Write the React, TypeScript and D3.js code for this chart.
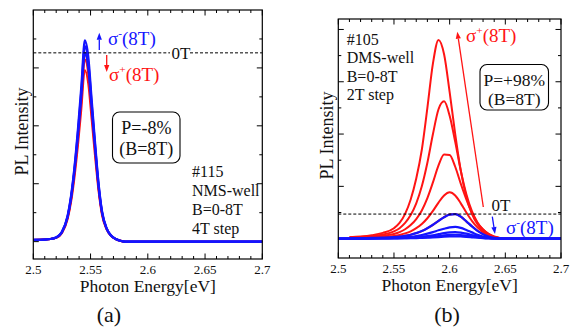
import React from "react";
import * as d3 from "d3";

// ---------- data ----------
const energyTickValues = [2.5, 2.55, 2.6, 2.65, 2.7];
const energyTickLabels = ["2.5", "2.55", "2.6", "2.65", "2.7"];

// Panel (a): #115 NMS-well, B = 0, 4, 8 T
const aEnergy = [2.50, 2.51, 2.515, 2.52, 2.525, 2.53, 2.533, 2.536, 2.539, 2.542, 2.545, 2.548, 2.551, 2.554, 2.557, 2.560, 2.564, 2.568, 2.572, 2.576, 2.58, 2.60, 2.70];
const aPlus0T = [0.06, 0.07, 0.09, 0.14, 0.32, 0.85, 1.5, 2.45, 3.65, 5.05, 6.52, 6.0, 4.6, 3.2, 1.9, 1.0, 0.45, 0.2, 0.09, 0.03, 0, 0, 0];
const aPlus4T = [0.06, 0.07, 0.09, 0.13, 0.31, 0.82, 1.45, 2.37, 3.53, 4.88, 6.3, 5.8, 4.45, 3.1, 1.84, 0.97, 0.44, 0.2, 0.09, 0.03, 0, 0, 0];
const aPlus8T = [0.06, 0.07, 0.09, 0.13, 0.29, 0.78, 1.37, 2.23, 3.32, 4.6, 5.93, 5.45, 4.2, 2.92, 1.74, 0.92, 0.42, 0.19, 0.09, 0.03, 0, 0, 0];
const aMinus0T = [0.06, 0.07, 0.09, 0.14, 0.32, 0.85, 1.5, 2.45, 3.65, 5.05, 6.52, 6.0, 4.6, 3.2, 1.9, 1.0, 0.45, 0.2, 0.09, 0.03, 0, 0, 0];
const aMinus4T = [0.06, 0.07, 0.09, 0.14, 0.33, 0.88, 1.55, 2.53, 3.78, 5.23, 6.75, 6.2, 4.75, 3.3, 1.96, 1.03, 0.46, 0.2, 0.09, 0.03, 0, 0, 0];
const aMinus8T = [0.06, 0.07, 0.09, 0.15, 0.34, 0.9, 1.6, 2.6, 3.9, 5.4, 6.95, 6.4, 4.9, 3.4, 2.02, 1.06, 0.47, 0.21, 0.09, 0.03, 0, 0, 0];

// Panel (b): #105 DMS-well, B = 0, 2, 4, 6, 8 T
const bEnergy = [2.50, 2.51, 2.52, 2.53, 2.54, 2.55, 2.555, 2.56, 2.565, 2.57, 2.575, 2.58, 2.585, 2.59, 2.595, 2.60, 2.605, 2.61, 2.615, 2.62, 2.625, 2.63, 2.635, 2.64, 2.645, 2.65, 2.66, 2.70];
const bPlus8T = [null, 0.05, 0.08, 0.13, 0.22, 0.4, 0.6, 0.95, 1.5, 2.3, 3.4, 5.0, 6.7, 7.6, 7.05, 5.6, 4.0, 2.6, 1.6, 0.95, 0.55, 0.3, 0.15, 0.06, 0.02, 0, 0, 0];
const bPlus6T = [null, 0.04, 0.06, 0.1, 0.16, 0.28, 0.4, 0.6, 0.9, 1.35, 2.0, 2.9, 4.0, 4.95, 5.25, 4.7, 3.7, 2.6, 1.7, 1.05, 0.62, 0.35, 0.17, 0.07, 0.02, 0, 0, 0];
const bPlus4T = [null, 0.03, 0.05, 0.07, 0.11, 0.18, 0.25, 0.36, 0.52, 0.75, 1.08, 1.55, 2.15, 2.8, 3.22, 3.2, 2.75, 2.1, 1.5, 0.98, 0.6, 0.35, 0.18, 0.08, 0.03, 0, 0, 0];
const bPlus2T = [null, 0.02, 0.03, 0.04, 0.06, 0.1, 0.14, 0.2, 0.28, 0.4, 0.56, 0.78, 1.06, 1.38, 1.65, 1.77, 1.65, 1.35, 1.0, 0.68, 0.43, 0.25, 0.13, 0.06, 0.02, 0, 0, 0];
const bPlus0T = [null, 0.01, 0.02, 0.03, 0.04, 0.06, 0.08, 0.11, 0.15, 0.21, 0.29, 0.4, 0.53, 0.68, 0.82, 0.92, 0.94, 0.84, 0.66, 0.47, 0.3, 0.17, 0.08, 0.03, 0.01, 0, 0, 0];
const bMinus0T = [0, 0.01, 0.02, 0.03, 0.04, 0.06, 0.08, 0.11, 0.15, 0.21, 0.29, 0.4, 0.53, 0.68, 0.82, 0.92, 0.94, 0.84, 0.66, 0.47, 0.3, 0.17, 0.08, 0.03, 0.01, 0, 0, 0];
const bMinus2T = [0, 0.005, 0.01, 0.015, 0.02, 0.03, 0.04, 0.05, 0.07, 0.1, 0.14, 0.19, 0.25, 0.32, 0.38, 0.43, 0.45, 0.41, 0.33, 0.24, 0.15, 0.08, 0.04, 0.015, 0.005, 0, 0, 0];
const bMinus4T = [0, 0, 0.005, 0.01, 0.015, 0.02, 0.025, 0.03, 0.04, 0.055, 0.075, 0.1, 0.13, 0.17, 0.21, 0.24, 0.25, 0.23, 0.19, 0.14, 0.09, 0.05, 0.025, 0.01, 0.005, 0, 0, 0];
const bMinus6T = [0, 0, 0, 0.005, 0.01, 0.015, 0.018, 0.022, 0.028, 0.035, 0.047, 0.062, 0.08, 0.1, 0.125, 0.143, 0.15, 0.14, 0.115, 0.085, 0.055, 0.03, 0.015, 0.006, 0.002, 0, 0, 0];
const bMinus8T = [0, 0, 0, 0.004, 0.008, 0.01, 0.012, 0.015, 0.018, 0.022, 0.03, 0.038, 0.048, 0.06, 0.075, 0.086, 0.09, 0.084, 0.07, 0.052, 0.034, 0.019, 0.009, 0.004, 0.001, 0, 0, 0];

const aLegendLines = ["#115", "NMS-well", "B=0-8T", "4T step"];
const bLegendLines = ["#105", "DMS-well", "B=0-8T", "2T step"];
const aBoxLines = ["P=-8%", "(B=8T)"];
const bBoxLines = ["P=+98%", "(B=8T)"];

// ---------- styling ----------
const RED = "#ff1414";
const BLUE = "#1414ff";
const FONT = "Liberation Serif, Tinos, Times New Roman, Times, DejaVu Serif, serif";

type Curve = { x: number[]; y: (number | null)[] };

function Arrow({ x1, y1, x2, y2, color }: { x1: number; y1: number; x2: number; y2: number; color: string }) {
  const dx = x2 - x1, dy = y2 - y1;
  const L = Math.hypot(dx, dy);
  const ux = dx / L, uy = dy / L;
  const hl = 7, hw = 2.6;
  const bx = x2 - ux * hl, by = y2 - uy * hl;
  const pts = [
    [x2, y2],
    [bx - uy * hw, by + ux * hw],
    [bx + uy * hw, by - ux * hw],
  ].map((p) => p.join(",")).join(" ");
  return (
    <g>
      <line x1={x1} y1={y1} x2={bx} y2={by} stroke={color} strokeWidth={1.3} />
      <polygon points={pts} fill={color} />
    </g>
  );
}

function Sigma({ x, y, sign, color, size }: { x: number; y: number; sign: string; color: string; size: number }) {
  return (
    <text x={x} y={y} fill={color} style={{ fontFamily: FONT }} fontSize={size}>
      <tspan>σ</tspan>
      <tspan dy={-size * 0.42} fontSize={size * 0.6}>{sign}</tspan>
      <tspan dy={size * 0.42}>(8T)</tspan>
    </text>
  );
}

function Frame({
  left, right, top, bottom, yDomain, yTickMax, red, blue, render,
}: {
  left: number; right: number; top: number; bottom: number;
  yDomain: [number, number]; yTickMax: number;
  red: Curve[]; blue: Curve[];
  render?: (x: d3.ScaleLinear<number, number>, y: d3.ScaleLinear<number, number>) => React.ReactNode;
}) {
  const x = d3.scaleLinear().domain([2.5, 2.7]).range([left, right]);
  const y = d3.scaleLinear().domain(yDomain).range([bottom, top]);
  const line = (c: Curve) =>
    d3.line<number>()
      .defined((_, i) => c.y[i] !== null)
      .x((_, i) => x(c.x[i]))
      .y((_, i) => y(c.y[i] as number))
      .curve(d3.curveMonotoneX)(c.x) || "";
  const minorX = d3.range(0, 21).map((i) => 2.5 + i * 0.01);
  const yTicks = d3.range(0, yTickMax + 1);
  const cid = `clip${Math.round(left)}`;
  return (
    <g>
      <defs>
        <clipPath id={cid}>
          <rect x={left} y={top} width={right - left} height={bottom - top} />
        </clipPath>
      </defs>
      {minorX.map((v, i) => {
        const major = i % 5 === 0;
        const L = major ? 5.5 : 3;
        const px = x(v);
        return (
          <g key={"xt" + i}>
            <line x1={px} x2={px} y1={bottom} y2={bottom - L} stroke="#000" strokeWidth={1} />
            <line x1={px} x2={px} y1={top} y2={top + L} stroke="#000" strokeWidth={1} />
          </g>
        );
      })}
      {yTicks.map((v) => {
        const major = v % 2 === 0;
        const L = major ? 5.5 : 3;
        const py = y(v);
        return (
          <g key={"yt" + v}>
            <line x1={left} x2={left + L} y1={py} y2={py} stroke="#000" strokeWidth={1} />
            <line x1={right} x2={right - L} y1={py} y2={py} stroke="#000" strokeWidth={1} />
          </g>
        );
      })}
      {energyTickValues.map((v, i) => (
        <text key={"xl" + i} x={x(v)} y={bottom + 14.5} textAnchor="middle" style={{ fontFamily: FONT }} fontSize={13} fill="#111">
          {energyTickLabels[i]}
        </text>
      ))}
      <g clipPath={`url(#${cid})`}>
        {red.map((c, i) => (
          <path key={"r" + i} d={line(c)} fill="none" stroke={RED} strokeWidth={2} strokeLinejoin="round" />
        ))}
        {blue.map((c, i) => (
          <path key={"b" + i} d={line(c)} fill="none" stroke={BLUE} strokeWidth={2.2} strokeLinejoin="round" />
        ))}
      </g>
      {render && render(x, y)}
      <rect x={left} y={top} width={right - left} height={bottom - top} fill="none" stroke="#000" strokeWidth={1.2} />
      <text
        transform={`translate(${left - 5.5},${(top + bottom) / 2 - 3}) rotate(-90)`}
        textAnchor="middle" style={{ fontFamily: FONT }} fontSize={18} fill="#111"
      >
        PL Intensity
      </text>
      <text x={(left + right) / 2} y={bottom + 32.5} textAnchor="middle" style={{ fontFamily: FONT }} fontSize={17.5} fill="#111">
        Photon Energy[eV]
      </text>
    </g>
  );
}

export default function App() {
  const aRed: Curve[] = [aPlus0T, aPlus4T, aPlus8T].map((y) => ({ x: aEnergy, y }));
  const aBlue: Curve[] = [aMinus0T, aMinus4T, aMinus8T].map((y) => ({ x: aEnergy, y }));
  const bRed: Curve[] = [bPlus0T, bPlus2T, bPlus4T, bPlus6T, bPlus8T].map((y) => ({ x: bEnergy, y }));
  const bBlue: Curve[] = [bMinus0T, bMinus2T, bMinus4T, bMinus6T, bMinus8T].map((y) => ({ x: bEnergy, y }));
  const aZero = d3.max(aPlus0T) as number;
  const bZero = d3.max(bMinus0T) as number;
  const T = { fontFamily: FONT };

  return (
    <svg width={574} height={333} style={{ position: "absolute", left: 0, top: 0, background: "#fff", fontFamily: FONT }}>
      <rect width={574} height={333} fill="#fff" />
      {/* Panel (a) */}
      <Frame
        left={33.3} right={262.3} top={10} bottom={259}
        yDomain={[-0.6, 8]} yTickMax={7}
        red={aRed} blue={aBlue}
        render={(x, y) => (
          <g>
            <line x1={x(2.5)} x2={170} y1={y(aZero)} y2={y(aZero)} stroke="#000" strokeWidth={1} strokeDasharray="3,2" />
            <line x1={190} x2={x(2.7)} y1={y(aZero)} y2={y(aZero)} stroke="#000" strokeWidth={1} strokeDasharray="3,2" />
            <text x={171.5} y={58.5} style={T} fontSize={17} fill="#111">0T</text>
            <Arrow x1={99.3} y1={50} x2={99.3} y2={32.7} color={BLUE} />
            <Sigma x={108} y={45} sign="-" color={BLUE} size={19} />
            <Arrow x1={106.7} y1={55} x2={106.7} y2={72} color={RED} />
            <Sigma x={109} y={81} sign="+" color={RED} size={19} />
            <rect x={112.5} y={112} width={67.5} height={51} rx={7} fill="#fff" stroke="#000" strokeWidth={1.1} />
            {aBoxLines.map((t, i) => (
              <text key={t} x={146.3} y={133.5 + i * 21} textAnchor="middle" style={T} fontSize={18} fill="#111">{t}</text>
            ))}
            {aLegendLines.map((t, i) => (
              <text key={t} x={192} y={177 + i * 19} style={T} fontSize={16} fill="#111">{t}</text>
            ))}
          </g>
        )}
      />
      <text x={109} y={322} textAnchor="middle" style={T} fontSize={22} fill="#111">(a)</text>

      {/* Panel (b) */}
      <Frame
        left={338.3} right={561} top={19} bottom={258}
        yDomain={[-0.74, 8.4]} yTickMax={8}
        red={bRed} blue={bBlue}
        render={(x, y) => (
          <g>
            <line x1={x(2.5)} x2={x(2.7)} y1={y(bZero)} y2={y(bZero)} stroke="#000" strokeWidth={1} strokeDasharray="3,2" />
            <text x={491.5} y={210.5} style={T} fontSize={17} fill="#111">0T</text>
            <Arrow x1={483.3} y1={207} x2={457.3} y2={31.7} color={RED} />
            <Sigma x={466} y={41.5} sign="+" color={RED} size={19} />
            <Arrow x1={492.3} y1={216.7} x2={495} y2={234} color={BLUE} />
            <Sigma x={506} y={233.5} sign="-" color={BLUE} size={19} />
            <rect x={480} y={64.5} width={68.5} height={45.5} rx={7} fill="#fff" stroke="#000" strokeWidth={1.1} />
            {bBoxLines.map((t, i) => (
              <text key={t} x={514.3} y={86 + i * 19} textAnchor="middle" style={T} fontSize={17.5} fill="#111">{t}</text>
            ))}
            {bLegendLines.map((t, i) => (
              <text key={t} x={346.7} y={44.5 + i * 18.5} style={T} fontSize={16} fill="#111">{t}</text>
            ))}
          </g>
        )}
      />
      <text x={447} y={322} textAnchor="middle" style={T} fontSize={22} fill="#111">(b)</text>
    </svg>
  );
}
